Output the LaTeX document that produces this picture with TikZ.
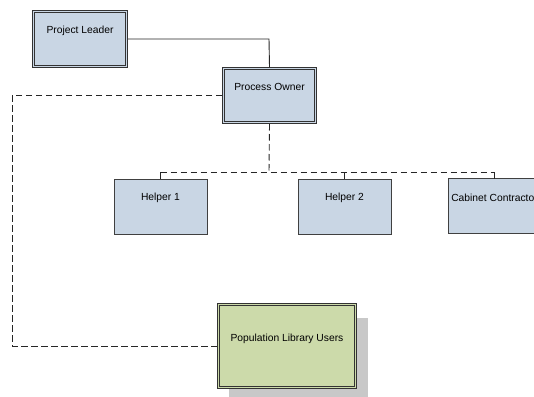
\documentclass[tikz,border=0pt]{standalone}
\usepackage{fontspec}
\setmainfont{Liberation Sans}
\begin{document}
\begin{tikzpicture}[x=1pt,y=-1pt,
  font=\fontsize{10.3}{12}\selectfont,
  bluebox/.style={fill=boxblue,draw=black!75,line width=0.8pt,inner sep=0pt,outer sep=0pt},
  dblbox/.style={fill=boxblue,draw=black!80,line width=0.7pt,double=boxblue,double distance=1.6pt,inner sep=0pt,outer sep=1.5pt},
  greenbox/.style={dblbox,fill=boxgreen,double=boxgreen},
  conn/.style={line width=0.9pt,draw=black!85},
  dconn/.style={conn,dash pattern=on 6.5pt off 3.5pt}]
\definecolor{boxblue}{HTML}{C9D6E4}
\definecolor{boxgreen}{HTML}{CCDAAA}
\definecolor{shadowgray}{HTML}{C8C8C8}
\useasboundingbox (0,0) rectangle (534,396);
\clip (0,0) rectangle (534,396);
% boxes
\node[dblbox,minimum width=93pt,minimum height=55pt] (pl) at (80,39) {};
\node at (80,31) (plt) {Project Leader};
\node[dblbox,minimum width=92pt,minimum height=54pt] (po) at (269.5,95.5) {};
\node at (269.5,87) (pot) {Process Owner};
\node[bluebox,minimum width=93pt,minimum height=55pt] (h1) at (160.5,206.5) {};
\node at (160.5,197.5) (h1t) {Helper 1};
\node[bluebox,minimum width=93pt,minimum height=55pt] (h2) at (344.5,206.5) {};
\node at (344.5,197.5) (h2t) {Helper 2};
\node[bluebox,minimum width=93pt,minimum height=55pt] (cc) at (494.5,206) {};
\node at (494.5,197.5) (cct) {Cabinet Contractor};
\fill[shadowgray] (229,318) rectangle (368,398);
\node[greenbox,minimum width=137pt,minimum height=83pt] (plu) at (287,346) {};
\node at (287,339) (plut) {Population Library Users};
% connectors
\coordinate (j1) at (269,39);
\coordinate (bus) at (269,172);
\coordinate (b1) at (160.5,172);
\coordinate (b2) at (344.5,172);
\coordinate (b3) at (494,172);
\coordinate (l1) at (12,95);
\coordinate (l2) at (12,346);
\draw[conn] (pl.east |- j1) -- (j1) -- (po.north);
\draw[dconn] (po.south) -- (bus);
\draw[dconn] (b1) -- (b3);
\draw[conn] (b1) -- (h1.north);
\draw[conn] (b2) -- (h2.north);
\draw[conn] (b3) -- (cc.north -| b3);
\draw[dconn] (po.west |- l1) -- (l1) -- (l2) -- (plu.west |- l2);
\end{tikzpicture}
\end{document}
